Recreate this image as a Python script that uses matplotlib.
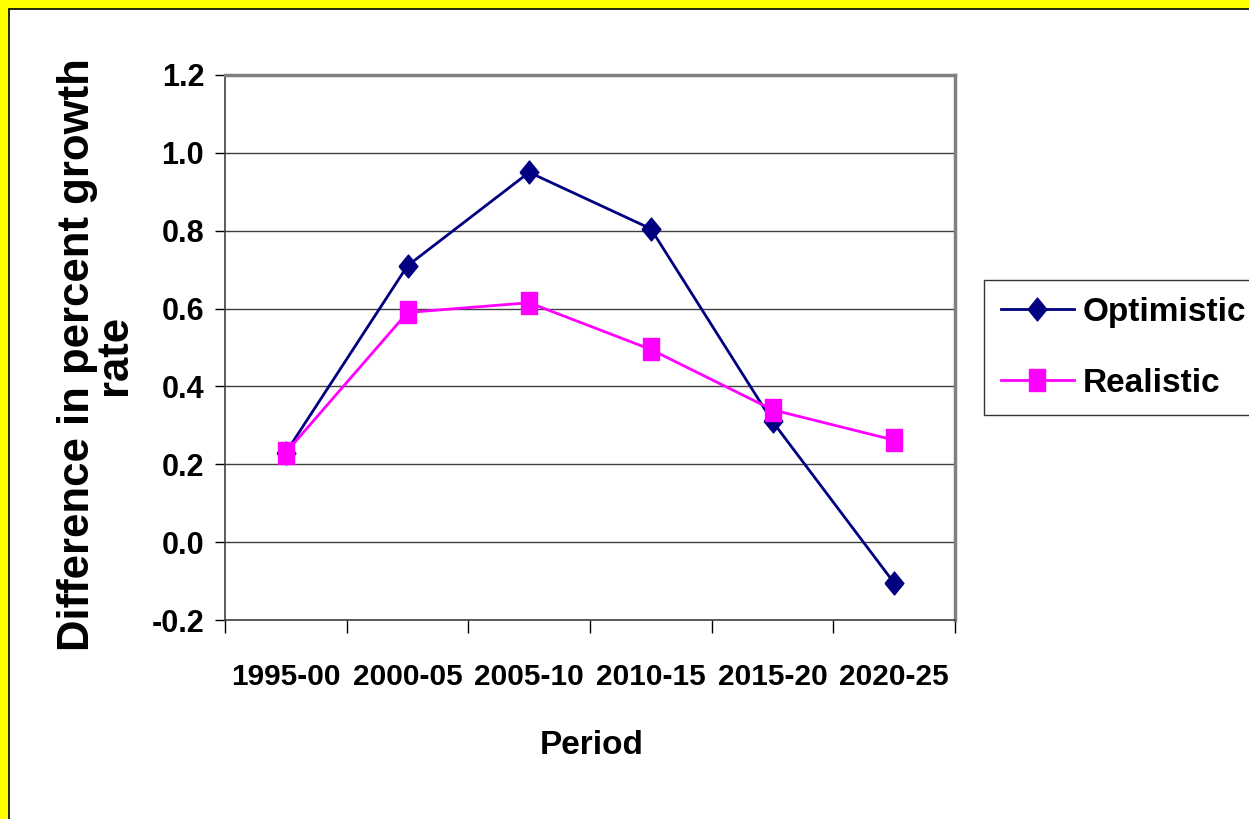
import matplotlib
matplotlib.use('Agg')
import matplotlib.pyplot as plt
from matplotlib.patches import Rectangle
from matplotlib.ticker import FixedLocator, NullFormatter

# Datos
periodos = ['1995-00', '2000-05', '2005-10', '2010-15', '2015-20', '2020-25']
optimista = [0.23, 0.71, 0.95, 0.805, 0.31, -0.105]
realista = [0.23, 0.59, 0.615, 0.495, 0.34, 0.262]
y_ticks = [-0.2, 0.0, 0.2, 0.4, 0.6, 0.8, 1.0, 1.2]

# Marcadores algo mas altos que anchos, como en el original
rombo = [(-0.41, 0), (0, 0.5), (0.41, 0), (0, -0.5), (-0.41, 0)]
cuadro = [(-0.37, -0.5), (0.37, -0.5), (0.37, 0.5), (-0.37, 0.5), (-0.37, -0.5)]


def main():
    plt.rcParams['font.family'] = ['Liberation Sans', 'DejaVu Sans']
    plt.rcParams['font.weight'] = 'bold'

    W, H = 1249, 819
    fig = plt.figure(figsize=(W / 100, H / 100), dpi=100)
    fig.patch.set_facecolor('#FFFF00')

    # Marco blanco con borde negro (en un eje de fondo)
    fondo = fig.add_axes([0, 0, 1, 1], zorder=0)
    fondo.set_axis_off()
    fondo.set_xlim(0, W)
    fondo.set_ylim(H, 0)
    fondo.add_patch(Rectangle((9, 9), W + 20, H + 20, facecolor='white',
                              edgecolor='black', linewidth=1.2))

    ax = fig.add_axes([225 / W, (H - 620) / H, (955 - 225) / W, (620 - 75) / H], zorder=1)
    ax.set_facecolor('white')

    x = [i + 0.5 for i in range(len(periodos))]
    ax.plot(x, optimista, color='#000080', linewidth=2, marker=rombo, markersize=16.5,
            label='Optimistic', zorder=3)
    ax.plot(x, realista, color='#FF00FF', linewidth=2, marker=cuadro, markersize=16.5,
            label='Realistic', zorder=4)

    ax.set_xlim(0, len(periodos))
    ax.set_ylim(-0.2, 1.2)
    ax.set_yticks(y_ticks)
    ax.set_yticklabels(['%.1f' % v for v in y_ticks], fontsize=22, fontweight='bold')
    ax.yaxis.grid(True, color='#404040', linewidth=1)
    ax.set_axisbelow(True)

    # Ticks en los bordes de categoria, etiquetas en el centro
    ax.xaxis.set_major_locator(FixedLocator(range(len(periodos) + 1)))
    ax.xaxis.set_major_formatter(NullFormatter())
    ax.xaxis.set_minor_locator(FixedLocator(x))
    ax.set_xticklabels(periodos, minor=True, fontsize=21.5, fontweight='bold')
    ax.tick_params(axis='x', which='major', length=9, width=1, color='black', direction='out')
    ax.tick_params(axis='x', which='minor', length=0, pad=31)
    ax.tick_params(axis='y', length=7, width=1, color='black', pad=8)

    for lado in ['top', 'right']:
        ax.spines[lado].set_color('#808080')
        ax.spines[lado].set_linewidth(2.5)
    for lado in ['left', 'bottom']:
        ax.spines[lado].set_color('#404040')
        ax.spines[lado].set_linewidth(1.2)

    fig.text(96 / W, 1 - 355 / H, 'Difference in percent growth\nrate', rotation=90,
             ha='center', va='center', multialignment='center', fontsize=31.5,
             fontweight='bold', linespacing=0.9, zorder=2)
    fig.text(592 / W, 1 - 745 / H, 'Period', ha='center', va='center', fontsize=24,
             fontweight='bold', zorder=2)

    leg = ax.legend(loc='upper left', bbox_to_anchor=(984 / W, 1 - 280 / H),
                    bbox_transform=fig.transFigure, frameon=True, borderaxespad=0,
                    fancybox=False, edgecolor='black', handlelength=2.2,
                    handletextpad=0.25, borderpad=0.5, labelspacing=1.2,
                    prop={'weight': 'bold', 'size': 24})
    leg.get_frame().set_linewidth(1)

    fig.savefig('out.png', dpi=100, facecolor=fig.get_facecolor())


if __name__ == '__main__':
    main()
